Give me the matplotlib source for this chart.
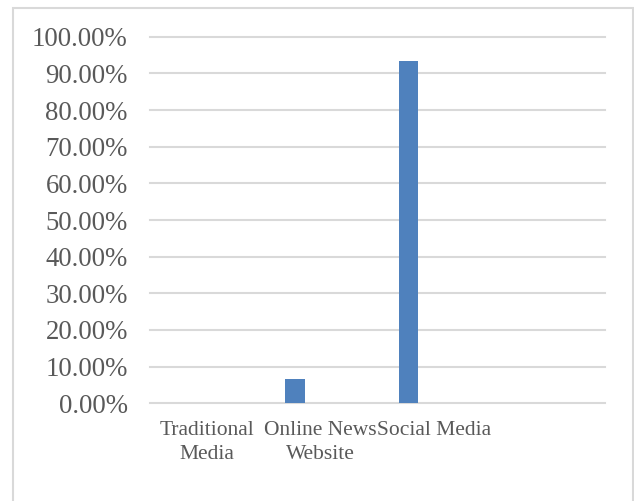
import matplotlib
matplotlib.use('Agg')
import matplotlib.pyplot as plt
import numpy as np
from matplotlib.patches import Rectangle
from matplotlib.ticker import FuncFormatter

# data
categories = ['Traditional\nMedia', 'Online News\nWebsite', 'Social Media', '']
shares = [0.0, 6.67, 93.33, 0.0]
y_ticks = [0, 10, 20, 30, 40, 50, 60, 70, 80, 90, 100]

plt.rcParams['font.family'] = ['Liberation Serif', 'DejaVu Serif']

fig = plt.figure(figsize=(6.34, 5.01), dpi=100)
ax = fig.add_axes([150 / 634, (501 - 403.3) / 501, 454.5 / 634, 366.6 / 501])

# bars sit a little left of each category centre
x = np.arange(len(categories))
ax.bar(x - 0.225, shares, width=0.17, color='#4f81bd', zorder=3)

ax.set_xlim(-0.5, len(categories) - 0.5)
ax.set_ylim(0, 100)
ax.set_yticks(y_ticks)
ax.yaxis.set_major_formatter(FuncFormatter(lambda v, p: f'{v:.2f}%'))
ax.set_xticks(x)
ax.set_xticklabels(categories, linespacing=1.3)

# gridlines
ax.grid(axis='y', color='#d9d9d9', linewidth=1.5, zorder=0)
for gl in ax.get_ygridlines():
    gl.set_clip_on(False)
for s in ax.spines.values():
    s.set_visible(False)

ax.tick_params(axis='y', length=0, pad=16, labelsize=19.3, labelcolor='#595959')
ax.tick_params(axis='x', length=0, pad=13, labelsize=15.5, labelcolor='#595959')

# chart area border
fig.add_artist(Rectangle((13.3 / 634, -0.1), (632.7 - 13.3) / 634, 1.1 - 8 / 501,
                         transform=fig.transFigure, fill=False,
                         edgecolor='#d9d9d9', linewidth=1.5))

fig.savefig('out.png', dpi=100)
